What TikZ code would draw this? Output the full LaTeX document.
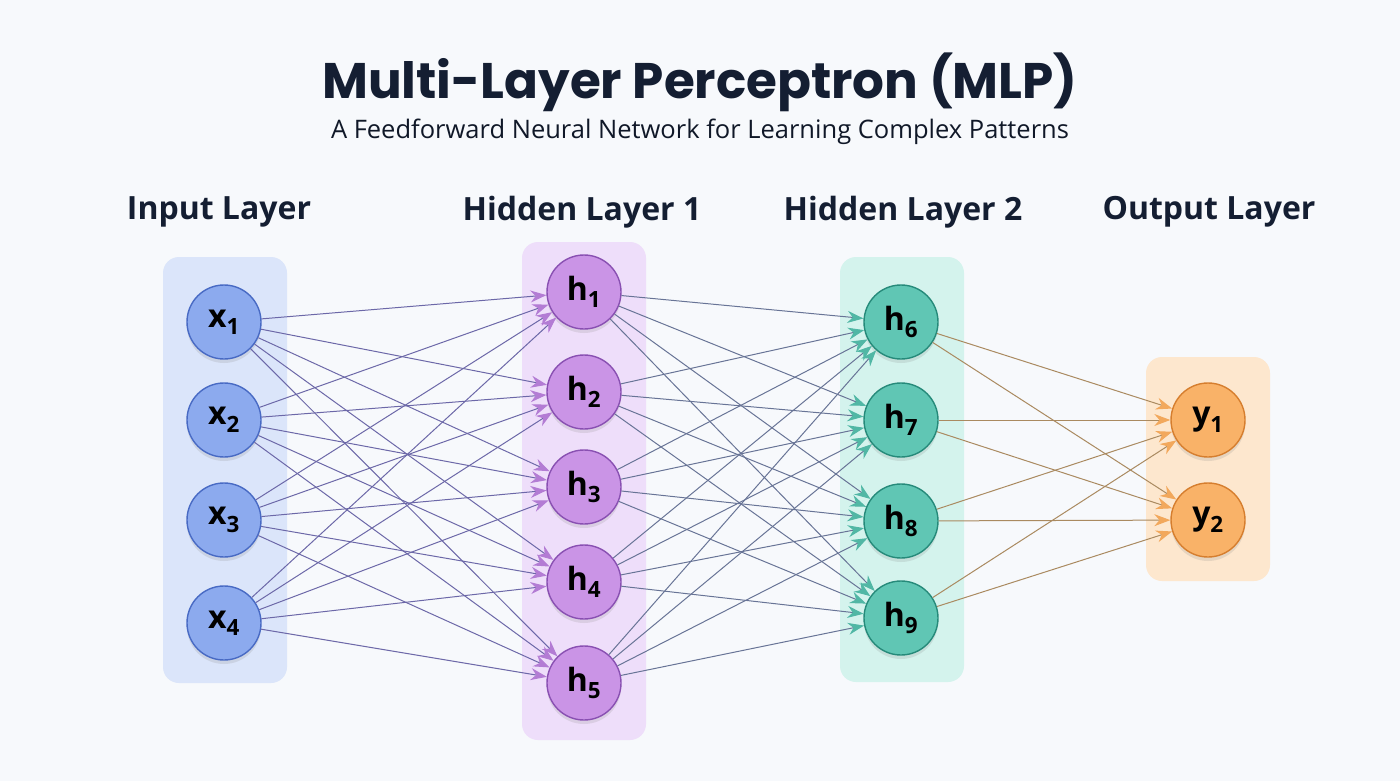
\documentclass[tikz,border=0pt]{standalone}
\usepackage{fontspec}
\setmainfont{Open Sans}
\newfontfamily\titleFont{Poppins}
\usetikzlibrary{arrows.meta,shadows}
\definecolor{bgColor}{RGB}{247,249,252}
\definecolor{titleColor}{RGB}{20,30,50}
\definecolor{inputBox}{RGB}{219,229,250}
\definecolor{inputFill}{RGB}{140,170,238}
\definecolor{inputLine}{RGB}{72,106,196}
\definecolor{hiddenBox}{RGB}{238,222,250}
\definecolor{hiddenFill}{RGB}{202,148,230}
\definecolor{hiddenLine}{RGB}{137,80,178}
\definecolor{secondBox}{RGB}{212,243,237}
\definecolor{secondFill}{RGB}{96,198,180}
\definecolor{secondLine}{RGB}{38,138,122}
\definecolor{outputBox}{RGB}{253,231,206}
\definecolor{outputFill}{RGB}{249,178,104}
\definecolor{outputLine}{RGB}{214,126,46}
\definecolor{firstEdge}{RGB}{108,104,168}
\definecolor{middleEdge}{RGB}{104,116,150}
\definecolor{lastEdge}{RGB}{170,138,96}
\tikzstyle{layerBoxStyle} = [rounded corners = 16pt]
\tikzstyle{neuron} = [circle, minimum size = 74pt, inner sep = 0pt, line width = 1.4pt, text=black, font=\fontsize{32}{32}\selectfont\bfseries, drop shadow={opacity=0.18, shadow xshift=0pt, shadow yshift=-4pt}]
\tikzstyle{layerLabel} = [text=titleColor, font=\fontsize{32}{36}\selectfont\bfseries]
\tikzstyle{edge} = [line width = 1pt]
\newcommand{\layerBox}[5]{\fill [layerBoxStyle, #1] (#2,#3) rectangle (#4,#5);}
\newcommand{\neuronLabel}[2]{#1\textsubscript{#2}}

\begin{document}
\begin{tikzpicture}[x = 1pt, y = -1pt]
  \fill [bgColor] (0,0) rectangle (1400,781);
  \useasboundingbox (0,0) rectangle (1400,781);

  \node [text=titleColor, font=\titleFont\fontsize{50}{56}\selectfont\bfseries] (title) at (700,82) {Multi-Layer Perceptron (MLP)};
  \node [text=titleColor!80!black, font=\fontsize{25.5}{30}\selectfont] (subtitle) at (700,132) {A Feedforward Neural Network for Learning Complex Patterns};

  \node [layerLabel] (inputLabel) at (219,212) {Input Layer};
  \node [layerLabel] (hiddenLabelA) at (582,212) {Hidden Layer 1};
  \node [layerLabel] (hiddenLabelB) at (903,212) {Hidden Layer 2};
  \node [layerLabel] (outputLabel) at (1209,212) {Output Layer};

  \layerBox{inputBox}{163}{257}{287}{683}
  \layerBox{hiddenBox}{522}{242}{646}{740}
  \layerBox{secondBox}{840}{257}{964}{682}
  \layerBox{outputBox}{1146}{357}{1270}{581}

  \foreach \i/\y in {1/322, 2/420, 3/520, 4/623}
    \node [neuron, fill=inputFill, draw=inputLine] (x\i) at (224,\y) {\neuronLabel{x}{\i}};
  \foreach \i/\y in {1/292, 2/392, 3/487, 4/582, 5/683}
    \node [neuron, fill=hiddenFill, draw=hiddenLine] (h\i) at (584,\y) {\neuronLabel{h}{\i}};
  \foreach \i/\y in {6/322, 7/420, 8/521, 9/618}
    \node [neuron, fill=secondFill, draw=secondLine] (h\i) at (901,\y) {\neuronLabel{h}{\i}};
  \foreach \i/\y in {1/420, 2/520}
    \node [neuron, fill=outputFill, draw=outputLine] (y\i) at (1208,\y) {\neuronLabel{y}{\i}};

  \foreach \i in {1,...,4} {
    \foreach \j in {1,...,5} {
      \draw [edge, firstEdge, -{Stealth[length=16pt, width=12pt, color=hiddenFill!65!hiddenLine]}] (x\i) -- (h\j);
    }
  }
  \foreach \i in {1,...,5} {
    \foreach \j in {6,...,9} {
      \draw [edge, middleEdge, -{Stealth[length=16pt, width=12pt, color=secondFill!75!secondLine]}] (h\i) -- (h\j);
    }
  }
  \foreach \i in {6,...,9} {
    \foreach \j in {1,2} {
      \draw [edge, lastEdge, -{Stealth[length=16pt, width=12pt, color=outputFill!80!outputLine]}] (h\i) -- (y\j);
    }
  }
\end{tikzpicture}
\end{document}
